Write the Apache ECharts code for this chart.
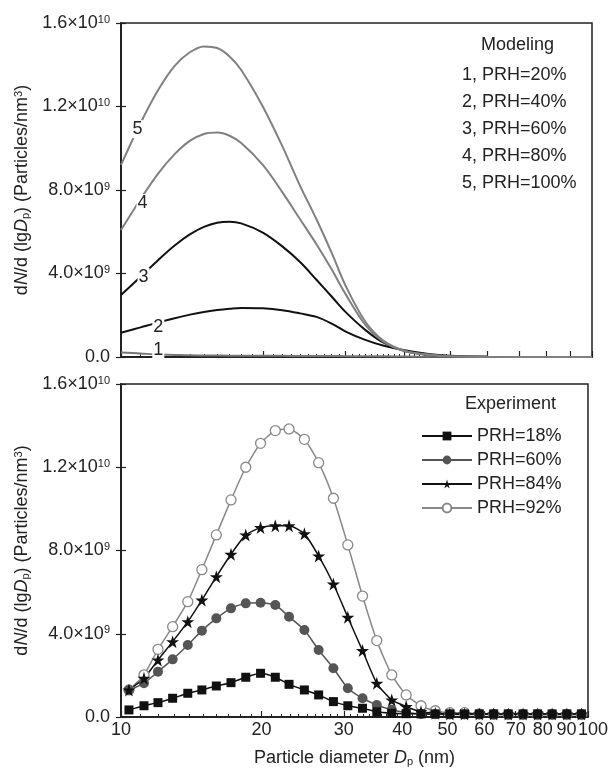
<!DOCTYPE html>
<html>
<head>
<meta charset="utf-8">
<script src="https://cdn.jsdelivr.net/npm/echarts@6/dist/echarts.min.js"></script>
<style>
html,body{margin:0;padding:0;background:#fff}
#chart{width:611px;height:772px}
</style>
</head>
<body>
<div id="chart"></div>
<script>
// values in units of 1e9 particles/nm3
const modelD = [10, 11, 12, 13, 14, 15, 16, 17, 18, 20, 22, 24, 26, 28, 30, 33, 36, 40, 45, 50, 60, 80, 100]
const model20 = [0.22, 0.17, 0.12, 0.1, 0.08, 0.075, 0.07, 0.065, 0.06, 0.06, 0.055, 0.05, 0.05, 0.045, 0.04, 0.03, 0.03, 0.02, 0.01, 0.01, 0, 0, 0]
const model40 = [1.16, 1.42, 1.66, 1.86, 2.03, 2.16, 2.25, 2.31, 2.35, 2.33, 2.24, 2.09, 1.92, 1.6, 1.22, 0.82, 0.55, 0.32, 0.14, 0.06, 0.01, 0, 0]
const model60 = [2.97, 3.84, 4.65, 5.34, 5.87, 6.23, 6.43, 6.48, 6.4, 5.96, 5.3, 4.55, 3.7, 2.9, 2.15, 1.3, 0.7, 0.28, 0.1, 0.03, 0.01, 0, 0]
const model80 = [6.08, 7.56, 8.8, 9.72, 10.35, 10.68, 10.75, 10.6, 10.25, 9.2, 7.9, 6.6, 5.4, 4.2, 3.0, 1.55, 0.75, 0.28, 0.1, 0.03, 0.01, 0, 0]
const model100 = [9.2, 11.2, 12.8, 13.95, 14.6, 14.88, 14.8, 14.4, 13.75, 12.0, 10.1, 8.2, 6.6, 5.0, 3.4, 1.7, 0.8, 0.3, 0.12, 0.04, 0.01, 0, 0]

const expD = [10.4, 11.2, 12.0, 12.9, 13.9, 14.9, 16.0, 17.2, 18.5, 19.9, 21.4, 22.9, 24.7, 26.5, 28.5, 30.6,
  32.9, 35.3, 38.0, 40.8, 43.9, 47.1, 50.6, 54.4, 58.5, 62.8, 67.5, 72.6, 78.0, 83.8, 90.1, 96.8]
const exp18 = [0.34, 0.54, 0.69, 0.9, 1.14, 1.3, 1.49, 1.65, 1.91, 2.1, 1.91, 1.57, 1.3, 1.06, 0.74, 0.54,
  0.42, 0.25, 0.18, 0.16, 0.15, 0.15, 0.15, 0.15, 0.15, 0.15, 0.15, 0.15, 0.15, 0.15, 0.15, 0.15]
const exp60 = [1.3, 1.62, 2.18, 2.77, 3.46, 4.15, 4.74, 5.22, 5.46, 5.49, 5.38, 4.82, 4.18, 3.22, 2.34, 1.38,
  0.9, 0.58, 0.35, 0.22, 0.15, 0.13, 0.12, 0.12, 0.12, 0.12, 0.12, 0.12, 0.12, 0.12, 0.12, 0.12]
const exp84 = [1.3, 1.86, 2.74, 3.62, 4.58, 5.62, 6.74, 7.82, 8.75, 9.1, 9.19, 9.19, 8.8, 7.74, 6.39, 4.79,
  3.19, 1.62, 0.82, 0.5, 0.25, 0.18, 0.15, 0.15, 0.15, 0.15, 0.15, 0.15, 0.15, 0.15, 0.15, 0.15]
const exp92 = [1.3, 2.02, 3.25, 4.34, 5.54, 7.08, 8.75, 10.43, 12.0, 13.15, 13.76, 13.84, 13.34, 12.22, 10.51, 8.27,
  5.81, 3.67, 2.02, 1.06, 0.54, 0.3, 0.21, 0.21, 0.15, 0.13, 0.12, 0.12, 0.12, 0.12, 0.12, 0.12]

const majorTicks = [10, 20, 30, 40, 50, 60, 70, 80, 90, 100]
const minorTicks = [11, 12, 13, 14, 15, 16, 17, 18, 19, 21, 22, 23, 24, 25, 26, 27, 28, 29,
  31, 32, 33, 34, 35, 36, 37, 38, 39, 41, 42, 43, 44, 45, 46, 47, 48, 49]
const xLabels = [10, 20, 30, 40, 50, 60, 70, 80, 90]
const lastLabel = [100]

const FONT = '"Liberation Sans", Arial, sans-serif'
const INK = '#222'
const STAR = 'path://M50,0 L61,35 L98,35 L68,57 L79,91 L50,70 L21,91 L32,57 L2,35 L39,35 Z'

const lg = v => Math.log10(v)
const pts = (ds, vs) => ds.map((d, i) => [lg(d), vs[i]])
const unlg = v => String(Math.round(Math.pow(10, v)))

// y labels like 1.6x10^10 (axis is in units of 1e9)
function sci(v) {
  if (v === 0) return '0.0'
  const p = Math.floor(Math.log10(v))
  return (v / Math.pow(10, p)).toFixed(1) + '×10{sup|' + (p + 9) + '}'
}

const rich = {
  t: {fontSize: 18, fontFamily: FONT, color: INK},
  i: {fontSize: 18, fontFamily: FONT, color: INK, fontStyle: 'italic'},
  s: {fontSize: 11, fontFamily: FONT, color: INK, verticalAlign: 'bottom', lineHeight: 11},
  u: {fontSize: 11, fontFamily: FONT, color: INK, verticalAlign: 'top', lineHeight: 11}
}
const yName = '{t|d}{i|N}{t|/d (lg}{i|D}{s|p}{t|) (Particles/nm}{u|3}{t|)}'

function xAxes(gridIndex, labels) {
  return [{
    type: 'value', gridIndex, min: 1, max: 2, position: 'bottom',
    axisLine: {lineStyle: {color: INK, width: 2}},
    axisTick: {inside: true, length: 6, customValues: majorTicks.map(lg), lineStyle: {color: INK, width: 1.2}},
    axisLabel: {show: labels, customValues: xLabels.map(lg), margin: 4, formatter: unlg,
      fontSize: 18, fontFamily: FONT, color: INK},
    splitLine: {show: false},
    name: labels ? '{t|Particle diameter }{i|D}{s|p}{t| (nm)}' : '',
    nameLocation: 'middle', nameGap: 32, nameTextStyle: {rich}
  }, {
    type: 'value', gridIndex, min: 1, max: 2, position: 'bottom',
    axisLine: {show: false},
    axisTick: {inside: true, length: 3, customValues: minorTicks.map(lg), lineStyle: {color: INK, width: 1}},
    axisLabel: {show: false},
    splitLine: {show: false}
  }]
}

// the "100" label sits a little right of its tick, right against "90"
const endAxis = {
  type: 'value', gridIndex: 1, min: 1, max: 2, position: 'bottom',
  axisLine: {show: false}, axisTick: {show: false}, splitLine: {show: false},
  axisLabel: {customValues: lastLabel.map(lg), margin: 4, showMaxLabel: true,
    formatter: v => '{r|' + unlg(v) + '}',
    rich: {r: {fontSize: 18, fontFamily: FONT, color: INK, padding: [0, 0, 0, 10]}}}
}

function yAxes(gridIndex) {
  return [{
    type: 'value', gridIndex, min: 0, max: 16, interval: 4, position: 'left',
    axisLine: {show: true, lineStyle: {color: INK, width: 2}},
    axisTick: {show: true, inside: false, length: 5, lineStyle: {color: INK, width: 1.2}},
    axisLabel: {formatter: sci, margin: 11, fontSize: 18, fontFamily: FONT, color: INK,
      rich: {sup: {fontSize: 11, fontFamily: FONT, color: INK, verticalAlign: 'top', lineHeight: 11}}},
    splitLine: {show: false},
    name: yName, nameLocation: 'middle', nameRotate: 90, nameGap: 88, nameTextStyle: {rich}
  }, {
    type: 'value', gridIndex, min: 0, max: 16, interval: 4, position: 'left',
    axisLine: {show: false},
    axisTick: {show: true, inside: true, length: 5, lineStyle: {color: INK, width: 1.2}},
    axisLabel: {show: false},
    splitLine: {show: false}
  }]
}

function modelSeries(name, vals, color, tag, idx, offset) {
  const data = pts(modelD, vals)
  data[idx] = {value: data[idx], label: {show: true, formatter: tag, position: 'inside', offset,
    backgroundColor: '#fff', padding: [0, 1], fontSize: 18, fontFamily: FONT, color: INK}}
  return {
    type: 'line', name, xAxisIndex: 0, yAxisIndex: 0, data, smooth: 0.35,
    symbol: 'circle', symbolSize: 0, showSymbol: true,
    lineStyle: {color, width: 2}, itemStyle: {color}
  }
}

function expSeries(name, vals, symbol, size, line, fill, border) {
  return {
    type: 'line', name, xAxisIndex: 2, yAxisIndex: 2, data: pts(expD, vals), smooth: 0.2,
    symbol, symbolSize: size,
    lineStyle: {color: line, width: 1.5},
    itemStyle: {color: fill, borderColor: border || fill, borderWidth: border ? 1.3 : 0}
  }
}

const chart = echarts.init(document.getElementById('chart'))
chart.setOption({
  animation: false,
  textStyle: {fontFamily: FONT},
  title: [
    {text: 'Modeling', left: 481, top: 36, padding: 0,
      textStyle: {fontSize: 18, fontWeight: 'normal', color: INK, fontFamily: FONT}},
    {text: 'Experiment', left: 465, top: 395, padding: 0,
      textStyle: {fontSize: 18, fontWeight: 'normal', color: INK, fontFamily: FONT}}
  ],
  legend: [
    {data: ['1, PRH=20%', '2, PRH=40%', '3, PRH=60%', '4, PRH=80%', '5, PRH=100%'],
      orient: 'vertical', left: 457, top: 66, padding: 0, icon: 'none', itemWidth: 0, itemGap: 9,
      selectedMode: false, textStyle: {fontSize: 18, fontFamily: FONT, color: INK}},
    {data: ['PRH=18%', 'PRH=60%', 'PRH=84%', 'PRH=92%'],
      orient: 'vertical', left: 421, top: 427, padding: 0, itemWidth: 50, itemHeight: 11, itemGap: 6,
      selectedMode: false, textStyle: {fontSize: 18, fontFamily: FONT, color: INK}}
  ],
  grid: [
    {left: 121, right: 19, top: 23, height: 334, show: true, borderColor: INK, borderWidth: 1.5},
    {left: 121, right: 23, top: 384, height: 333, show: true, borderColor: INK, borderWidth: 1.5}
  ],
  xAxis: [...xAxes(0, false), ...xAxes(1, true), endAxis],
  yAxis: [...yAxes(0), ...yAxes(1)],
  series: [
    modelSeries('1, PRH=20%', model20, '#777', '1', 2, [0, -4]),
    modelSeries('2, PRH=40%', model40, '#111', '2', 2, [0, 5]),
    modelSeries('3, PRH=60%', model60, '#111', '3', 1, [3, 0]),
    modelSeries('4, PRH=80%', model80, '#808080', '4', 1, [2, 4]),
    modelSeries('5, PRH=100%', model100, '#808080', '5', 1, [-3, 6]),
    // drawn back to front so the dark markers sit on top along the tail
    expSeries('PRH=92%', exp92, 'circle', 10, '#888', '#fff', '#888'),
    expSeries('PRH=60%', exp60, 'circle', 10, '#555', '#555'),
    expSeries('PRH=84%', exp84, STAR, 13, '#111', '#111'),
    expSeries('PRH=18%', exp18, 'rect', 9, '#111', '#111')
  ]
})
</script>
</body>
</html>
